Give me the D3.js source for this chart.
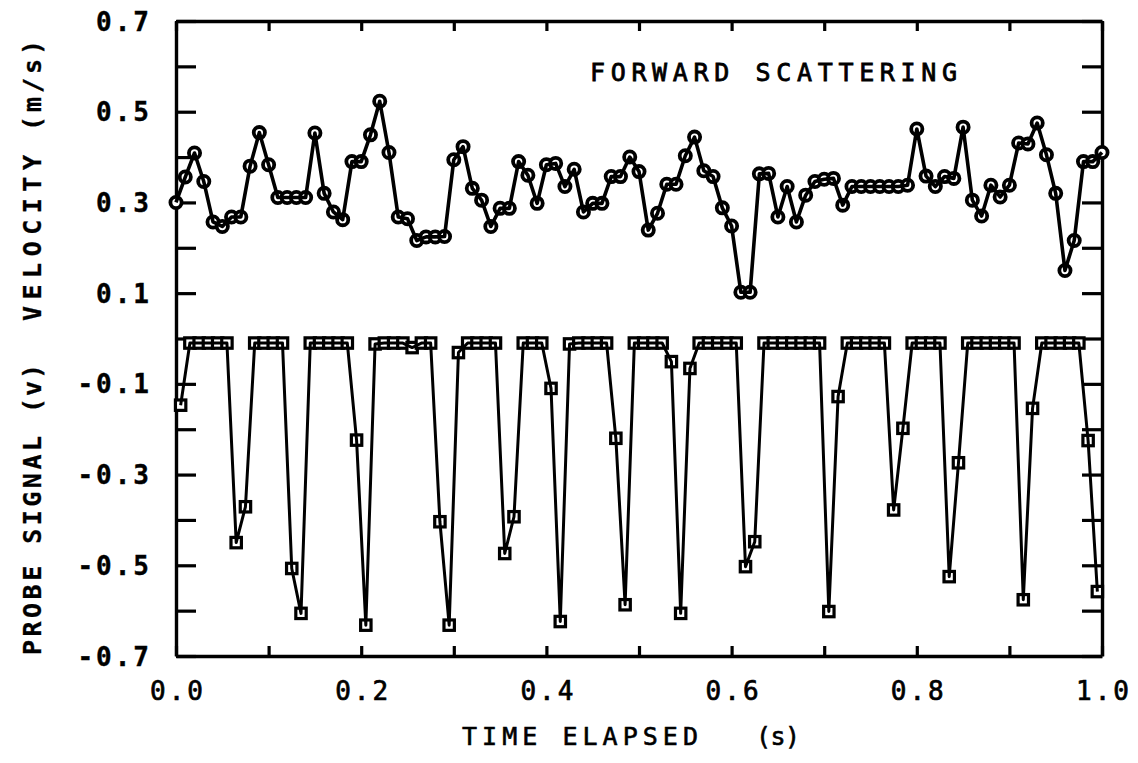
<!DOCTYPE html>
<html>
<head>
<meta charset="utf-8">
<script src="https://cdn.jsdelivr.net/npm/d3@7"></script>
<style>
  body { margin: 0; background: #fff; }
  svg { display: block; }
  .axis path, .axis line { stroke: #000; }
</style>
</head>
<body>
<svg id="chart" width="1138" height="763"></svg>
<script>
// Velocity samples (m/s), one every 0.01 s starting at t = 0
const velocity = [
  0.300, 0.356, 0.409, 0.346, 0.257, 0.247, 0.268, 0.268, 0.380, 0.454,
  0.383, 0.311, 0.311, 0.311, 0.311, 0.453, 0.320, 0.279, 0.262, 0.390,
  0.390, 0.449, 0.523, 0.410, 0.268, 0.264, 0.216, 0.224, 0.224, 0.225,
  0.394, 0.423, 0.331, 0.305, 0.247, 0.287, 0.287, 0.390, 0.360, 0.298,
  0.383, 0.386, 0.335, 0.373, 0.279, 0.298, 0.298, 0.357, 0.357, 0.400,
  0.368, 0.239, 0.276, 0.340, 0.340, 0.403, 0.444, 0.370, 0.357, 0.288,
  0.248, 0.102, 0.102, 0.363, 0.364, 0.268, 0.335, 0.257, 0.316, 0.346,
  0.351, 0.353, 0.294, 0.335, 0.335, 0.335, 0.335, 0.335, 0.335, 0.338,
  0.462, 0.358, 0.335, 0.357, 0.353, 0.466, 0.305, 0.270, 0.338, 0.312,
  0.338, 0.431, 0.429, 0.475, 0.405, 0.320, 0.150, 0.216, 0.390, 0.390,
  0.410
];

// Probe signal samples (V), one every 0.01 s starting at t = 0.005
const probeSignal = [
  -0.147, -0.010, -0.010, -0.010, -0.010, -0.010, -0.450, -0.371, -0.010, -0.010,
  -0.010, -0.010, -0.507, -0.606, -0.010, -0.010, -0.010, -0.010, -0.010, -0.224,
  -0.632, -0.012, -0.010, -0.010, -0.010, -0.020, -0.010, -0.010, -0.404, -0.632,
  -0.031, -0.010, -0.010, -0.010, -0.010, -0.474, -0.393, -0.010, -0.010, -0.010,
  -0.110, -0.624, -0.012, -0.010, -0.010, -0.010, -0.010, -0.220, -0.587, -0.010,
  -0.010, -0.010, -0.010, -0.051, -0.606, -0.066, -0.010, -0.010, -0.010, -0.010,
  -0.010, -0.503, -0.448, -0.010, -0.010, -0.010, -0.010, -0.010, -0.010, -0.010,
  -0.602, -0.128, -0.010, -0.010, -0.010, -0.010, -0.010, -0.378, -0.198, -0.010,
  -0.010, -0.010, -0.010, -0.525, -0.274, -0.010, -0.010, -0.010, -0.010, -0.010,
  -0.010, -0.576, -0.154, -0.010, -0.010, -0.010, -0.010, -0.010, -0.225, -0.558
];

const sampleStep = 0.01;
const velocityStart = 0;
const probeStart = 0.005;

const xTickValues = [0, 0.2, 0.4, 0.6, 0.8, 1.0];
const xTickLabels = ["0.0", "0.2", "0.4", "0.6", "0.8", "1.0"];
const yTickValues = [0.7, 0.5, 0.3, 0.1, -0.1, -0.3, -0.5, -0.7];
const yTickLabels = ["0.7", "0.5", "0.3", "0.1", "-0.1", "-0.3", "-0.5", "-0.7"];
const minorX = [0, 0.1, 0.2, 0.3, 0.4, 0.5, 0.6, 0.7, 0.8, 0.9, 1.0];
const minorY = [-0.7, -0.6, -0.5, -0.4, -0.3, -0.2, -0.1, 0, 0.1, 0.2, 0.3, 0.4, 0.5, 0.6, 0.7];

const title = "FORWARD SCATTERING";
const xTitle = ["TIME ELAPSED", "(s)"];
const yTitle = ["PROBE SIGNAL", "(v)", "VELOCITY", "(m/s)"];

const vPoints = velocity.map((v, i) => ({ t: velocityStart + i * sampleStep, v }));
const pPoints = probeSignal.map((v, i) => ({ t: probeStart + i * sampleStep, v }));

const svg = d3.select("#chart");
const plotLeft = 176, plotRight = 1102, plotTop = 21, plotBottom = 656;

const x = d3.scaleLinear().domain([0, 1]).range([plotLeft, plotRight]);
const y = d3.scaleLinear().domain([-0.7, 0.7]).range([plotBottom, plotTop]);

const font = "'DejaVu Sans Mono', 'Liberation Mono', monospace";

// Frame with inward ticks on all four sides
const axes = [
  { gen: d3.axisBottom(x).tickValues(minorX).tickSize(-10), tr: `translate(0,${plotBottom})` },
  { gen: d3.axisTop(x).tickValues(minorX).tickSize(-10), tr: `translate(0,${plotTop})` },
  { gen: d3.axisLeft(y).tickValues(minorY).tickSize(-20), tr: `translate(${plotLeft},0)` },
  { gen: d3.axisRight(y).tickValues(minorY).tickSize(-20), tr: `translate(${plotRight},0)` }
];
axes.forEach(a => {
  const g = svg.append("g").attr("class", "axis").attr("transform", a.tr)
    .call(a.gen.tickSizeOuter(0).tickFormat(""));
  g.select(".domain").attr("stroke-width", 3.4);
  g.selectAll(".tick line").attr("stroke-width", 3.2);
});

// Tick labels
svg.append("g").selectAll("text").data(yTickValues).join("text")
  .attr("x", 152)
  .attr("y", d => y(d) + 9.5)
  .attr("text-anchor", "end")
  .attr("font-family", font).attr("font-weight", "bold").attr("font-size", 26)
  .attr("letter-spacing", 3)
  .attr("stroke", "#000").attr("stroke-width", 0.4)
  .text((d, i) => yTickLabels[i]);

svg.append("g").selectAll("text").data(xTickValues).join("text")
  .attr("x", d => x(d) + 2)
  .attr("y", 700)
  .attr("text-anchor", "middle")
  .attr("font-family", font).attr("font-size", 26)
  .attr("letter-spacing", 3)
  .attr("stroke", "#000").attr("stroke-width", 0.7)
  .text((d, i) => xTickLabels[i]);

// Axis titles
svg.append("text").attr("x", 462).attr("y", 745)
  .attr("font-family", font).attr("font-size", 25)
  .attr("stroke", "#000").attr("stroke-width", 0.6)
  .attr("textLength", 236).attr("lengthAdjust", "spacing")
  .text(xTitle[0]);
svg.append("text").attr("x", 756).attr("y", 745)
  .attr("font-family", font).attr("font-size", 25)
  .attr("stroke", "#000").attr("stroke-width", 0.6)
  .attr("textLength", 44).attr("lengthAdjust", "spacing")
  .text(xTitle[1]);

const yTitleParts = [
  { text: yTitle[0], from: 655, to: 436 },
  { text: yTitle[1], from: 413, to: 364 },
  { text: yTitle[2], from: 321, to: 155 },
  { text: yTitle[3], from: 131, to: 40 }
];
yTitleParts.forEach(p => {
  svg.append("text")
    .attr("transform", `translate(41,${p.from}) rotate(-90)`)
    .attr("font-family", font).attr("font-weight", "bold").attr("font-size", 25)
    .attr("stroke", "#000").attr("stroke-width", 0.3)
    .attr("textLength", p.from - p.to).attr("lengthAdjust", "spacing")
    .text(p.text);
});

svg.append("text").attr("x", 590).attr("y", 81)
  .attr("font-family", font).attr("font-size", 25)
  .attr("stroke", "#000").attr("stroke-width", 0.8)
  .attr("textLength", 367).attr("lengthAdjust", "spacing")
  .text(title);

// Series lines
const line = d3.line().x(d => x(d.t)).y(d => y(d.v));

// Square markers for the probe signal, drawn under its line
svg.append("g").selectAll("rect").data(pPoints).join("rect")
  .attr("x", d => x(d.t) - 5.2).attr("y", d => y(d.v) - 5.2)
  .attr("width", 10.4).attr("height", 10.4)
  .attr("fill", "#fff").attr("stroke", "#000").attr("stroke-width", 3.2);
svg.append("path").datum(pPoints)
  .attr("d", line).attr("fill", "none")
  .attr("stroke", "#000").attr("stroke-width", 3).attr("stroke-linejoin", "round");

// Circle markers for velocity, drawn under its line
svg.append("g").selectAll("circle").data(vPoints).join("circle")
  .attr("cx", d => x(d.t)).attr("cy", d => y(d.v)).attr("r", 5.6)
  .attr("fill", "#fff").attr("stroke", "#000").attr("stroke-width", 3.8);
svg.append("path").datum(vPoints)
  .attr("d", line).attr("fill", "none")
  .attr("stroke", "#000").attr("stroke-width", 3.6).attr("stroke-linejoin", "round");
</script>
</body>
</html>
